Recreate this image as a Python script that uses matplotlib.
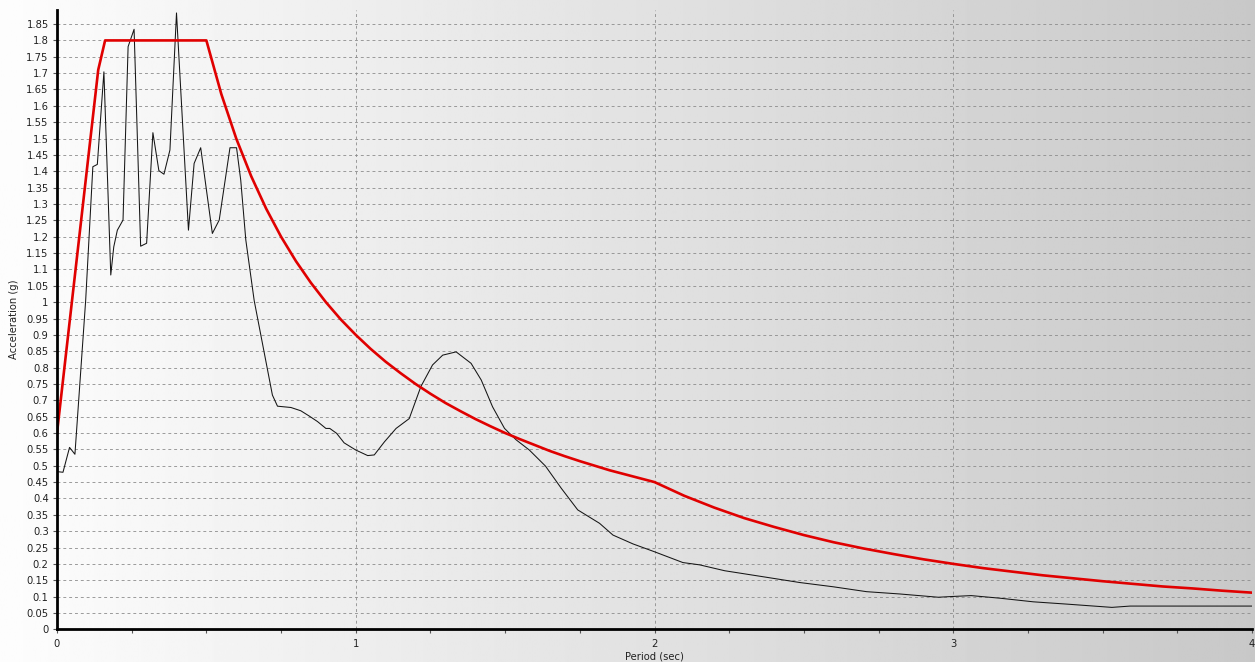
import numpy as np
import matplotlib
matplotlib.use("Agg")
import matplotlib.pyplot as plt
from matplotlib.ticker import MultipleLocator, FuncFormatter

# Design response spectrum (period in sec, spectral acceleration in g)
design_period = [0.0, 0.138, 0.161, 0.50, 0.55, 0.60, 0.65, 0.70, 0.75, 0.80,
                 0.85, 0.90, 0.95, 1.00, 1.05, 1.10, 1.15, 1.20, 1.25, 1.30,
                 1.35, 1.40, 1.45, 1.50, 1.55, 1.60, 1.65, 1.70, 1.75, 1.80,
                 1.85, 1.90, 1.95, 2.00, 2.10, 2.20, 2.30, 2.40, 2.50, 2.60,
                 2.70, 2.80, 2.90, 3.00, 3.10, 3.20, 3.30, 3.40, 3.50, 3.60,
                 3.70, 3.80, 3.90, 4.00]
design_accel = [0.600, 1.710, 1.800, 1.800, 1.636, 1.500, 1.385, 1.286, 1.200, 1.125,
                1.059, 1.000, 0.947, 0.900, 0.857, 0.818, 0.783, 0.750, 0.720, 0.692,
                0.667, 0.643, 0.621, 0.600, 0.581, 0.563, 0.545, 0.529, 0.514, 0.500,
                0.486, 0.474, 0.462, 0.450, 0.408, 0.372, 0.340, 0.313, 0.288, 0.266,
                0.247, 0.230, 0.214, 0.200, 0.187, 0.176, 0.165, 0.156, 0.147, 0.139,
                0.131, 0.125, 0.118, 0.112]

# Record response spectrum
record_period = [0.000, 0.020, 0.042, 0.060, 0.096, 0.120, 0.135, 0.157, 0.180, 0.190,
                 0.202, 0.221, 0.238, 0.258, 0.280, 0.300, 0.321, 0.341, 0.358, 0.378,
                 0.400, 0.440, 0.459, 0.481, 0.520, 0.543, 0.579, 0.601, 0.615, 0.632,
                 0.660, 0.721, 0.738, 0.783, 0.816, 0.844, 0.872, 0.900, 0.913, 0.936,
                 0.961, 1.000, 1.040, 1.062, 1.096, 1.135, 1.179, 1.218, 1.257, 1.291,
                 1.336, 1.386, 1.420, 1.458, 1.498, 1.537, 1.581, 1.635, 1.688, 1.743,
                 1.816, 1.861, 1.928, 2.000, 2.095, 2.151, 2.235, 2.375, 2.486, 2.598,
                 2.710, 2.821, 2.950, 2.990, 3.060, 3.157, 3.268, 3.380, 3.531, 3.592,
                 4.000]
record_accel = [0.482, 0.480, 0.556, 0.535, 1.006, 1.414, 1.421, 1.704, 1.083, 1.169,
                1.220, 1.251, 1.781, 1.834, 1.171, 1.180, 1.518, 1.402, 1.391, 1.465,
                1.884, 1.220, 1.424, 1.472, 1.210, 1.251, 1.472, 1.472, 1.373, 1.190,
                1.005, 0.716, 0.682, 0.678, 0.668, 0.652, 0.635, 0.614, 0.614, 0.599,
                0.570, 0.548, 0.531, 0.533, 0.573, 0.614, 0.644, 0.742, 0.808, 0.838,
                0.848, 0.813, 0.762, 0.680, 0.614, 0.579, 0.548, 0.499, 0.431, 0.365,
                0.324, 0.288, 0.261, 0.237, 0.204, 0.197, 0.179, 0.159, 0.143, 0.130,
                0.115, 0.108, 0.098, 0.100, 0.103, 0.095, 0.084, 0.077, 0.067, 0.071,
                0.071]

W, H, DPI = 1255, 662, 100
fig = plt.figure(figsize=(W / DPI, H / DPI), dpi=DPI)

# Horizontal white-to-grey backdrop behind everything
bg = fig.add_axes([0, 0, 1, 1], zorder=-10)
grad = np.linspace(253, 200, 512) / 255.0
bg.imshow(np.tile(grad, (2, 1)), cmap="gray", vmin=0, vmax=1,
          aspect="auto", extent=[0, 1, 0, 1])
bg.set_axis_off()

ax = fig.add_axes([57 / W, 1 - 629.3 / H, (1252 - 57) / W, (629.3 - 10) / H])
ax.set_facecolor("none")

ax.plot(record_period, record_accel, color="#151515", lw=0.75, zorder=3)
ax.plot(design_period, design_accel, color="#e00000", lw=1.9, zorder=4)

ax.set_xlim(0, 4)
ax.set_ylim(0, 1.893)

ax.yaxis.set_major_locator(MultipleLocator(0.05))
ax.xaxis.set_major_locator(MultipleLocator(1))
ax.xaxis.set_minor_locator(MultipleLocator(0.25))


def fmt(v, _):
    s = f"{v:.2f}".rstrip("0").rstrip(".")
    return "0" if s in ("-0", "") else s


ax.yaxis.set_major_formatter(FuncFormatter(fmt))
ax.xaxis.set_major_formatter(FuncFormatter(lambda v, _: f"{v:g}"))

ax.grid(True, which="major", axis="both", color="#8c8c8c",
        linestyle=(0, (3.5, 3.5)), linewidth=0.6)

for side in ("top", "right"):
    ax.spines[side].set_visible(False)
ax.spines["left"].set_linewidth(2.0)
ax.spines["bottom"].set_linewidth(2.0)
ax.spines["left"].set_zorder(5)
ax.spines["bottom"].set_zorder(5)

ax.tick_params(axis="both", which="major", direction="out", length=3,
               width=0.8, color="#555555", labelsize=7.2, pad=3,
               labelcolor="#222222")
ax.tick_params(axis="x", which="minor", direction="out", length=3,
               width=0.8, color="#555555")
ax.tick_params(axis="x", which="major", pad=4)

ax.set_xlabel("Period (sec)", fontsize=7.2, labelpad=2, color="#222222")
ax.set_ylabel("Acceleration (g)", fontsize=7.2, labelpad=5, color="#222222")

fig.savefig("out.png", dpi=DPI)
